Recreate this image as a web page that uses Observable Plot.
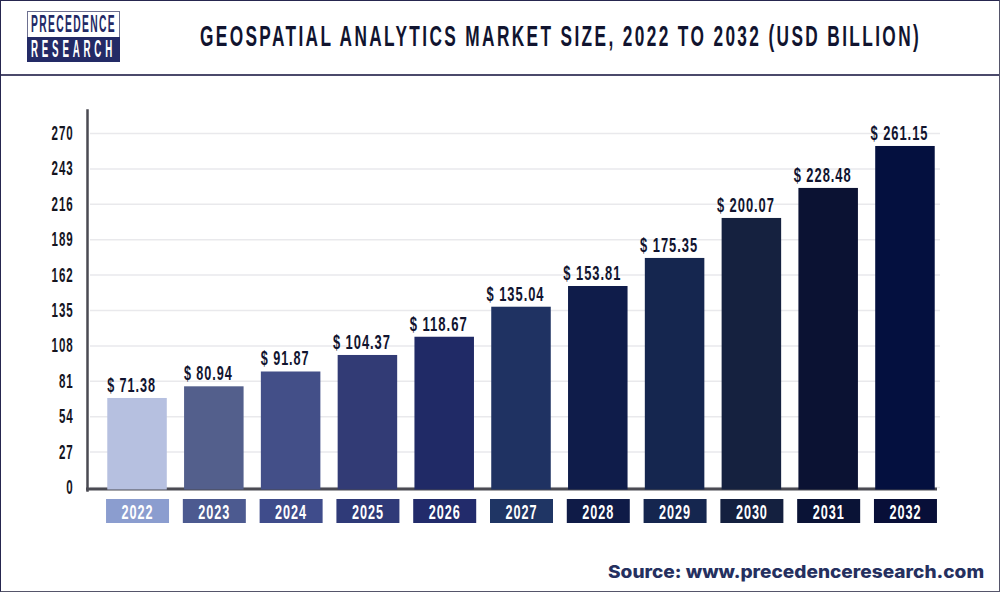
<!DOCTYPE html>
<html>
<head>
<meta charset="utf-8">
<script src="https://cdn.jsdelivr.net/npm/d3@7"></script>
<script src="https://cdn.jsdelivr.net/npm/@observablehq/plot@0.6"></script>
<style>
  html,body{margin:0;padding:0;background:#fff}
  #page{position:relative;width:1000px;height:592px;box-sizing:border-box;overflow:hidden;background:#fff}
  #edge{position:absolute;inset:0;box-sizing:border-box;border-style:solid;border-width:1.5px;border-color:#26264f #55556a #55556a #26264f;pointer-events:none}
  header{position:relative;height:76px;box-sizing:border-box;border-bottom:2px solid #4b4a6b}
  .fit{position:absolute;display:inline-block;white-space:nowrap;transform-origin:left center;margin:0}
  h1{left:200px;top:19px;font:700 29px/35px "Liberation Sans",sans-serif;letter-spacing:4px;color:#11142f}
  #logoTop{position:absolute;left:27px;top:11px;width:93px;height:26px;box-sizing:border-box;border:1px solid #6d7090;border-bottom:0;background:#fff}
  #logoBottom{position:absolute;left:27px;top:37px;width:93px;height:25px;background:#232a66}
  .logoText{left:31px;font:700 23px/25px "Liberation Sans",sans-serif}
  #logoA{top:12px;color:#232a66;letter-spacing:3px}
  #logoB{top:37px;color:#fff;letter-spacing:9px}
  #chart svg{display:block}
  #chart svg text{letter-spacing:1.5px}
  footer{left:608px;top:561px;font:800 17.5px/22px "Inter","Open Sans",sans-serif;color:#25305f}
</style>
</head>
<body>
<div id="page">
  <header>
    <div id="logoTop"></div><div id="logoBottom"></div>
    <div id="logoA" class="fit logoText">PRECEDENCE</div>
    <div id="logoB" class="fit logoText">RESEARCH</div>
    <h1 id="title" class="fit">GEOSPATIAL ANALYTICS MARKET SIZE, 2022 TO 2032 (USD BILLION)</h1>
  </header>
  <div id="chart"></div>
  <footer id="source" class="fit">Source: www.precedenceresearch.com</footer>
  <div id="edge"></div>
</div>
<script>
const years = ["2022","2023","2024","2025","2026","2027","2028","2029","2030","2031","2032"];
// Bar heights as drawn in the picture (they differ slightly from the printed figures).
const barHeights = [67.9,76.8,88.1,100.7,114.6,137.5,153.3,174.7,205.2,228.1,260.1];
// Figures as printed above the bars.
const barLabels = ["$ 71.38","$ 80.94","$ 91.87","$ 104.37","$ 118.67","$ 135.04","$ 153.81","$ 175.35","$ 200.07","$ 228.48","$ 261.15"];
const yTicks = [0,27,54,81,108,135,162,189,216,243,270];
const barColors = ["#b6c0e0","#535f8c","#434f88","#323b75","#202a66","#1f3262","#0f1c4a","#15264f","#15213f","#0b1233","#04103f"];
const boxColors = ["#8b9dcf","#4c5a90","#3f4c8b","#2f3a78","#222b6b","#1f3564","#0f1b47","#15264f","#14203f","#0a1336","#080f38"];

const rows = years.map((year,i)=>({year,height:barHeights[i],label:barLabels[i],box:boxColors[i]}));
const face = '"Liberation Sans",sans-serif';
const H = 470, MT = 57, MB = 59;
const frameH = H - MT - MB;

const chart = Plot.plot({
  width:1000, height:H,
  marginTop:MT, marginBottom:MB, marginLeft:90, marginRight:48,
  x:{domain:years, padding:0.225, round:false, axis:null},
  y:{domain:[0,270], axis:null, label:null},
  color:{domain:years, range:barColors},
  marks:[
    Plot.gridY(yTicks,{stroke:"#e9e9ec",strokeOpacity:1,strokeWidth:1.5,insetRight:12}),
    Plot.frame({anchor:"left",stroke:"#4a4a52",strokeWidth:2.5,insetLeft:-3,insetTop:-23,insetBottom:-3}),
    Plot.frame({anchor:"bottom",stroke:"#4a4a52",strokeWidth:3,insetBottom:-1.5,insetLeft:-3,insetRight:17}),
    Plot.barY(rows,{x:"year",y:"height",fill:"year",insetBottom:-2.5}),
    Plot.text(rows,{x:"year",y:"height",text:"label",dx:-6,dy:-13,fontFamily:face,fontWeight:700,fontSize:20,fill:"#11142f"}),
    Plot.axisY(yTicks,{anchor:"left",label:null,tickSize:0,tickPadding:17,fontFamily:face,fontWeight:700,fontSize:20,color:"#15151f",tickFormat:d=>String(d)}),
    // Year chips below the axis: a thick tick per band, pushed below the frame.
    Plot.tickX(rows,{x:"year",stroke:"box",strokeWidth:63,strokeOpacity:1,insetTop:frameH+12,insetBottom:-36}),
    Plot.text(rows,{x:"year",text:"year",frameAnchor:"bottom",lineAnchor:"middle",dy:25,fontFamily:face,fontWeight:700,fontSize:20,fill:"#fff"})
  ]
});
document.getElementById("chart").append(chart);

// The reference lettering is condensed; squeeze the installed face to the same widths.
chart.querySelectorAll("text").forEach(t=>{
  const s = t.textContent;
  const w = s.startsWith("$") ? 7.25*s.length + (s.length>7?0:-2) : /^20\d\d$/.test(s) ? 32 : 7.3*s.length;
  t.setAttribute("textLength", w.toFixed(1));
  t.setAttribute("lengthAdjust","spacingAndGlyphs");
});
const fit = (id,w)=>{const el=document.getElementById(id);el.style.transform=`scaleX(${w/el.offsetWidth})`;};
fit("title",721); fit("logoA",85); fit("logoB",85); fit("source",376);
</script>
</body>
</html>
